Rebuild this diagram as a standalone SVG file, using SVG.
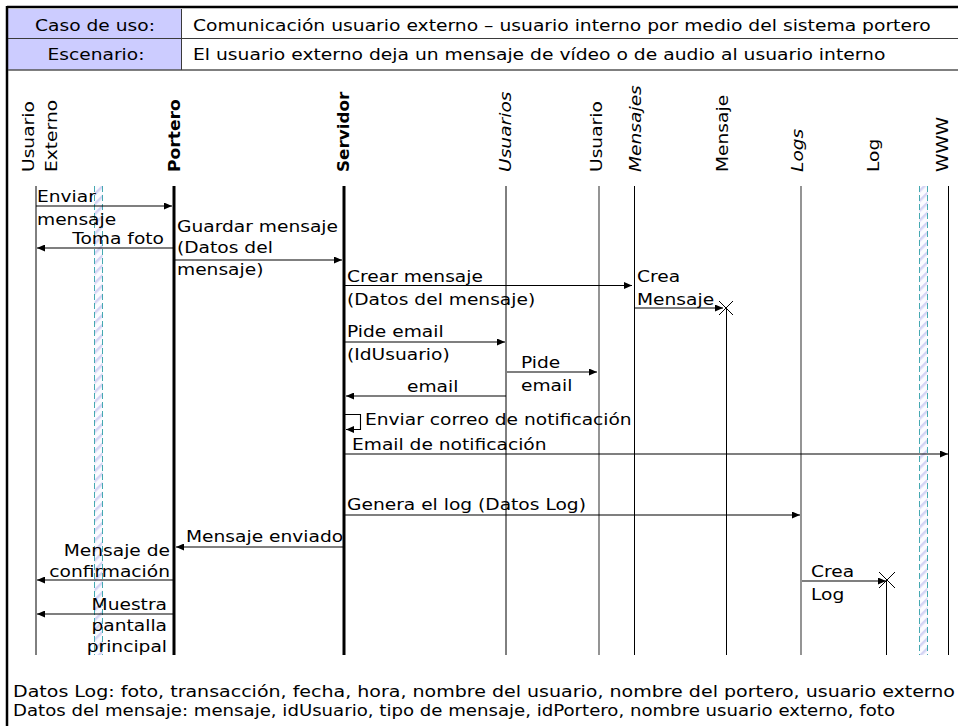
<svg xmlns="http://www.w3.org/2000/svg" width="958" height="726" viewBox="0 0 958 726">
  <style>
    text { font-family: "DejaVu Sans", Verdana, sans-serif; font-size: 16px; fill: #000; }
    .b { font-weight: bold; }
    .i { font-style: italic; }
    .foot { font-family: "DejaVu Sans Condensed", "DejaVu Sans", sans-serif; font-stretch: condensed; font-size: 15px; }
    .life { stroke: #000; stroke-width: 1; fill: none; }
    .life-g { stroke: #7a7a7a; stroke-width: 1.6; fill: none; }
    .life-k { stroke: #000; stroke-width: 3; fill: none; }
    .msg { stroke: #000; stroke-width: 1.1; fill: none; marker-end: url(#arr); }
    .xmark { stroke: #000; stroke-width: 1; fill: none; }
    .band-edge { stroke: #45a9b1; stroke-width: 1; stroke-dasharray: 6 3; fill: none; }
  </style>
  <defs>
    <marker id="arr" viewBox="0 0 8 7" refX="8" refY="3.5" markerWidth="8" markerHeight="7" markerUnits="userSpaceOnUse" orient="auto">
      <path d="M0,0 L8,3.5 L0,7 z" fill="#000"/>
    </marker>
    <pattern id="hatch" width="7" height="7" patternUnits="userSpaceOnUse" patternTransform="rotate(-45)">
      <rect width="7" height="7" fill="#fbfbff"/>
      <rect width="7" height="2.5" fill="#d4d4f4"/>
    </pattern>
  </defs>

  <!-- frame and header table -->
  <g id="header">
    <rect x="8" y="9" width="173" height="61" fill="#ccccff"/>
    <line x1="7" y1="7" x2="958" y2="7" stroke="#000" stroke-width="2.5"/>
    <line x1="7" y1="6" x2="7" y2="726" stroke="#000" stroke-width="2.5"/>
    <line x1="8" y1="38.5" x2="958" y2="38.5" stroke="#3a3a3a" stroke-width="1"/>
    <line x1="8" y1="70" x2="958" y2="70" stroke="#555" stroke-width="1.5"/>
    <line x1="181.5" y1="9" x2="181.5" y2="70" stroke="#3a3a3a" stroke-width="1"/>
    <text transform="translate(95,31) scale(1.165,1)" text-anchor="middle">Caso de uso:</text>
    <text transform="translate(96,60) scale(1.165,1)" text-anchor="middle">Escenario:</text>
    <text transform="translate(193,31) scale(1.17,1)">Comunicación usuario externo – usuario interno por medio del sistema portero</text>
    <text transform="translate(193,60) scale(1.17,1)">El usuario externo deja un mensaje de vídeo o de audio al usuario interno</text>
  </g>

  <!-- lifelines with their head labels -->
  <g id="usuario-externo">
    <text transform="translate(34,172) rotate(-90) scale(1.165,1)">Usuario</text>
    <text transform="translate(57,172) rotate(-90) scale(1.165,1)">Externo</text>
    <line class="life" x1="36" y1="186" x2="36" y2="655"/>
  </g>
  <g id="band-left">
    <rect x="94.5" y="186" width="8" height="469" fill="url(#hatch)"/>
    <line class="band-edge" x1="94.5" y1="186" x2="94.5" y2="655"/>
    <line class="band-edge" x1="102.5" y1="186" x2="102.5" y2="655"/>
  </g>
  <g id="portero">
    <text class="b" transform="translate(180,172) rotate(-90) scale(1.07,1)">Portero</text>
    <line class="life-k" x1="174" y1="186" x2="174" y2="655"/>
  </g>
  <g id="servidor">
    <text class="b" transform="translate(349,172) rotate(-90) scale(1.05,1)">Servidor</text>
    <line class="life-k" x1="344" y1="186" x2="344" y2="655"/>
  </g>
  <g id="usuarios">
    <text class="i" transform="translate(511,172) rotate(-90) scale(1.165,1)">Usuarios</text>
    <line class="life" x1="506" y1="186" x2="506" y2="655"/>
  </g>
  <g id="usuario">
    <text transform="translate(602,172) rotate(-90) scale(1.165,1)">Usuario</text>
    <line class="life-g" x1="599" y1="186" x2="599" y2="655"/>
  </g>
  <g id="mensajes">
    <text class="i" transform="translate(641,172) rotate(-90) scale(1.165,1)">Mensajes</text>
    <line class="life" x1="634.5" y1="186" x2="634.5" y2="655"/>
  </g>
  <g id="mensaje">
    <text transform="translate(728,172) rotate(-90) scale(1.165,1)">Mensaje</text>
    <path class="xmark" d="M719,301 L733,315 M733,301 L719,315"/>
    <line class="life" x1="726.5" y1="308" x2="726.5" y2="655"/>
  </g>
  <g id="logs">
    <text class="i" transform="translate(803,172) rotate(-90) scale(1.165,1)">Logs</text>
    <line class="life-g" x1="801" y1="186" x2="801" y2="655"/>
  </g>
  <g id="log">
    <text transform="translate(879,172) rotate(-90) scale(1.165,1)">Log</text>
    <path class="xmark" d="M879,572 L895,588 M895,572 L879,588"/>
    <line class="life" x1="886.5" y1="580" x2="886.5" y2="655"/>
  </g>
  <g id="band-right">
    <rect x="919.5" y="186" width="8" height="469" fill="url(#hatch)"/>
    <line class="band-edge" x1="919.5" y1="186" x2="919.5" y2="655"/>
    <line class="band-edge" x1="927.5" y1="186" x2="927.5" y2="655"/>
  </g>
  <g id="www">
    <text transform="translate(948,172) rotate(-90) scale(1.165,1)">WWW</text>
    <line class="life" x1="948.5" y1="186" x2="948.5" y2="655"/>
  </g>

  <!-- messages -->
  <g id="connectors">
    <path class="msg" d="M36,206 H172"/>
    <path class="msg" d="M173,248 H37"/>
    <path class="msg" d="M175,260 H342"/>
    <path class="msg" d="M345,285.5 H632"/>
    <path class="msg" d="M635,308 H723"/>
    <path class="msg" d="M345,342 H505"/>
    <path class="msg" d="M507,372 H597"/>
    <path class="msg" d="M506,396 H346"/>
    <path class="msg" d="M345,414.5 H360.5 V429.5 H346"/>
    <path class="msg" d="M345,454 H948"/>
    <path class="msg" d="M345,515 H800"/>
    <path class="msg" d="M343,547 H176"/>
    <path class="msg" d="M173,580 H37"/>
    <path class="msg" d="M802,581 H886"/>
    <path class="msg" d="M173,614 H37"/>
  </g>

  <!-- message labels -->
  <g id="labels">
    <text transform="translate(37,202) scale(1.165,1)">Enviar<tspan x="0" dy="23">mensaje</tspan></text>
    <text transform="translate(164,244) scale(1.165,1)" text-anchor="end">Toma foto</text>
    <text transform="translate(177,232) scale(1.165,1)">Guardar mensaje<tspan x="0" dy="21.5">(Datos del</tspan><tspan x="0" dy="21.5">mensaje)</tspan></text>
    <text transform="translate(347,282) scale(1.165,1)">Crear mensaje<tspan x="0" dy="23">(Datos del mensaje)</tspan></text>
    <text transform="translate(637,282) scale(1.165,1)">Crea<tspan x="0" dy="23">Mensaje</tspan></text>
    <text transform="translate(347,337) scale(1.165,1)">Pide email<tspan x="0" dy="23">(IdUsuario)</tspan></text>
    <text transform="translate(521,368) scale(1.165,1)">Pide<tspan x="0" dy="23">email</tspan></text>
    <text transform="translate(407,392) scale(1.165,1)">email</text>
    <text transform="translate(365,425) scale(1.165,1)">Enviar correo de notificación</text>
    <text transform="translate(352,450) scale(1.165,1)">Email de notificación</text>
    <text transform="translate(347,510) scale(1.165,1)">Genera el log (Datos Log)</text>
    <text transform="translate(186,542) scale(1.165,1)">Mensaje enviado</text>
    <text transform="translate(170,556) scale(1.165,1)" text-anchor="end">Mensaje de<tspan x="0" dy="21.5">confirmación</tspan></text>
    <text transform="translate(811,577) scale(1.165,1)">Crea<tspan x="0" dy="23">Log</tspan></text>
    <text transform="translate(167,610) scale(1.165,1)" text-anchor="end">Muestra<tspan x="0" dy="21">pantalla</tspan><tspan x="0" dy="21">principal</tspan></text>
  </g>

  <!-- data definitions -->
  <g id="notes">
    <text class="foot" x="13" y="697" textLength="942" lengthAdjust="spacingAndGlyphs">Datos Log: foto, transacción, fecha, hora, nombre del usuario, nombre del portero, usuario externo</text>
    <text class="foot" x="13" y="716" textLength="882" lengthAdjust="spacingAndGlyphs">Datos del mensaje: mensaje, idUsuario, tipo de mensaje, idPortero, nombre usuario externo, foto</text>
  </g>
</svg>
